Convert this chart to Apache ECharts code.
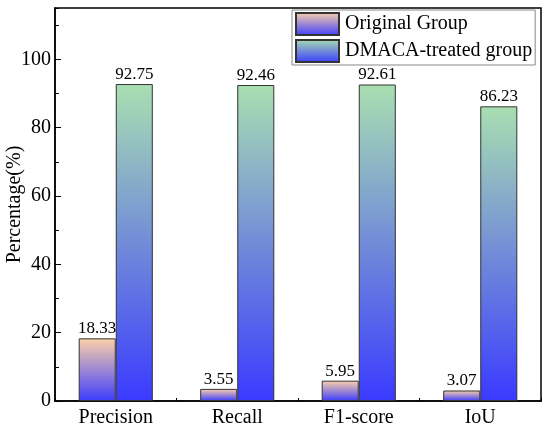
<!DOCTYPE html>
<html>
<head>
<meta charset="utf-8">
<script src="https://cdn.jsdelivr.net/npm/echarts@6/dist/echarts.min.js"></script>
<style>
  html, body { margin: 0; padding: 0; background: #fff; }
  #chart { width: 550px; height: 430px; }
</style>
</head>
<body>
<div id="chart"></div>
<script>
const categories = ['Precision', 'Recall', 'F1-score', 'IoU'];
const originalGroup = [18.33, 3.55, 5.95, 3.07];
const treatedGroup = [92.75, 92.46, 92.61, 86.23];
const seriesNames = ['Original Group', 'DMACA-treated group'];

const font = 'Liberation Serif';

function grad(top, bottom) {
  return new echarts.graphic.LinearGradient(0, 0, 0, 1, [
    { offset: 0, color: top },
    { offset: 1, color: bottom }
  ]);
}

const chart = echarts.init(document.getElementById('chart'));

const labelStyle = {
  show: true,
  position: 'top',
  distance: 1,
  color: '#000',
  fontFamily: font,
  fontSize: 17
};

chart.setOption({
  animation: false,
  grid: {
    left: 55, right: 9, top: 8, bottom: 29,
    show: true,
    borderColor: '#000',
    borderWidth: 1.5,
    containLabel: false,
    outerBoundsMode: 'none'
  },
  legend: {
    orient: 'vertical',
    left: 292,
    top: 10,
    padding: [2, 3, 2, 3],
    itemGap: 3,
    itemWidth: 43,
    itemHeight: 22,
    icon: 'rect',
    backgroundColor: '#fff',
    borderColor: '#888',
    borderWidth: 1,
    textStyle: { fontFamily: font, fontSize: 20, color: '#000', padding: [0, 0, 0, 1] },
    data: seriesNames
  },
  xAxis: {
    type: 'category',
    data: categories,
    axisLine: { lineStyle: { color: '#000', width: 1.5 } },
    axisTick: { show: true, inside: true, length: 3, lineStyle: { color: '#000' } },
    axisLabel: { color: '#000', fontFamily: font, fontSize: 20, margin: 7 }
  },
  yAxis: [
    {
      type: 'value',
      min: 0,
      max: 115,
      interval: 20,
      name: 'Percentage(%)',
      nameLocation: 'middle',
      nameGap: 30,
      nameMoveOverlap: false,
      nameTextStyle: { color: '#000', fontFamily: font, fontSize: 20 },
      axisLine: { show: true, lineStyle: { color: '#000', width: 1.5 } },
      axisTick: { show: true, inside: true, length: 6, lineStyle: { color: '#000' } },
      axisLabel: { color: '#000', fontFamily: font, fontSize: 20, margin: 4, showMaxLabel: false },
      splitLine: { show: false }
    },
    {
      type: 'value',
      min: 0,
      max: 115,
      interval: 10,
      position: 'left',
      axisLine: { show: false },
      axisTick: { show: true, inside: true, length: 4, lineStyle: { color: '#000' } },
      axisLabel: { show: false },
      splitLine: { show: false }
    }
  ],
  series: [
    {
      name: seriesNames[0],
      type: 'bar',
      data: originalGroup,
      barGap: '0%',
      barCategoryGap: '39%',
      itemStyle: { color: grad('#fdd1a9', '#3d3dfd'), borderColor: '#333', borderWidth: 1 },
      label: labelStyle
    },
    {
      name: seriesNames[1],
      type: 'bar',
      data: treatedGroup,
      barGap: '0%',
      barCategoryGap: '39%',
      itemStyle: { color: grad('#a9dfb1', '#3a3aff'), borderColor: '#333', borderWidth: 1 },
      label: labelStyle
    }
  ]
});
</script>
</body>
</html>
